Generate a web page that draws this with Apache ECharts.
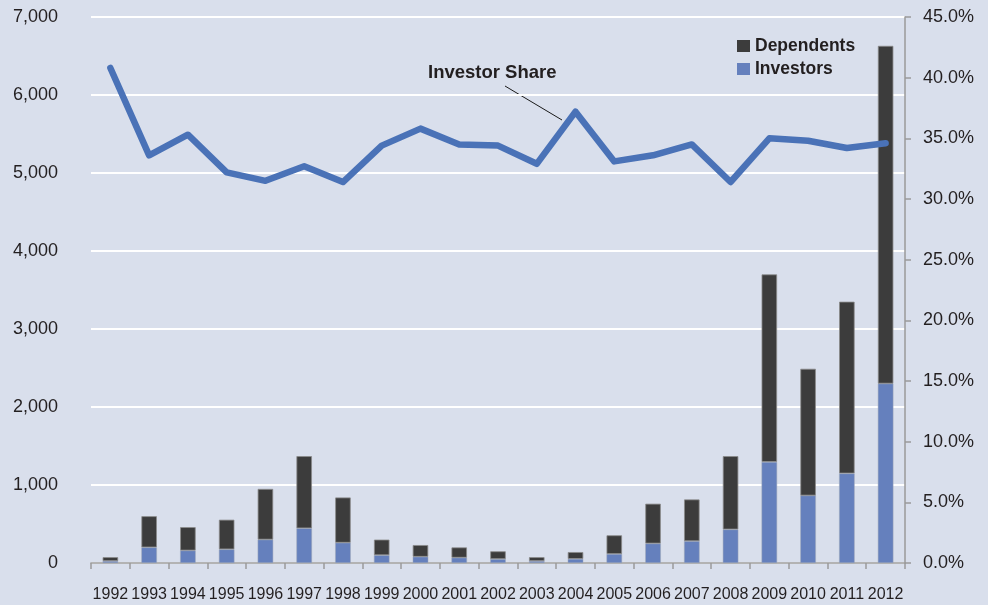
<!DOCTYPE html>
<html>
<head>
<meta charset="utf-8">
<script src="https://cdn.jsdelivr.net/npm/echarts@6/dist/echarts.min.js"></script>
<style>
html,body{margin:0;padding:0;background:#d9dfec;}
#c{width:988px;height:605px;}
</style>
</head>
<body>
<div id="c"></div>
<script>
const years = ['1992','1993','1994','1995','1996','1997','1998','1999','2000','2001','2002','2003','2004','2005','2006','2007','2008','2009','2010','2011','2012'];
const investors = [25,200,160,175,300,445,260,100,80,68,50,25,52,115,250,280,430,1295,865,1148,2300];
const dependents = [50,400,300,380,650,925,580,200,150,132,100,50,88,240,510,535,940,2405,1625,2202,4330];
const investorShare = [40.8,33.6,35.3,32.2,31.5,32.7,31.4,34.4,35.8,34.5,34.4,32.9,37.2,33.1,33.6,34.5,31.4,35.0,34.8,34.2,34.6];
const leftTicks = {min:0, max:7000, interval:1000};
const rightTicks = {min:0, max:45, interval:5};

const txt = '#231f20';
const chart = echarts.init(document.getElementById('c'));
chart.setOption({
  backgroundColor:'#d9dfec',
  animation:false,
  grid:{left:91,right:83,top:17,bottom:42,containLabel:false},
  legend:{
    data:['Dependents','Investors'],
    orient:'vertical', left:732, top:32,
    itemWidth:13, itemHeight:12, itemGap:5,
    itemStyle:{borderWidth:0},
    textStyle:{color:txt, fontSize:17.5, fontWeight:'bold', fontFamily:'Liberation Sans'},
    icon:'rect'
  },
  xAxis:{
    type:'category', data:years,
    axisLine:{lineStyle:{color:'#9a9a9a',width:1.5}},
    axisTick:{show:true,length:6,lineStyle:{color:'#9a9a9a',width:1.5}},
    axisLabel:{color:txt,fontSize:16,fontFamily:'Liberation Sans',margin:24,interval:0}
  },
  yAxis:[{
    type:'value', min:leftTicks.min, max:leftTicks.max, interval:leftTicks.interval,
    axisLine:{show:false}, axisTick:{show:false},
    splitLine:{lineStyle:{color:'#ffffff',width:2}},
    axisLabel:{color:txt,fontSize:18,fontFamily:'Liberation Sans',margin:33,padding:[5,0,0,0],
      formatter:v=>v.toLocaleString('en-US')}
  },{
    type:'value', min:rightTicks.min, max:rightTicks.max, interval:rightTicks.interval,
    position:'right',
    axisLine:{show:true,lineStyle:{color:'#9a9a9a',width:1.5}},
    axisTick:{show:true,length:6,lineStyle:{color:'#9a9a9a',width:1.5}},
    splitLine:{show:false},
    axisLabel:{color:txt,fontSize:18,fontFamily:'Liberation Sans',margin:18,padding:[5,0,0,0],
      formatter:v=>v.toFixed(1)+'%'}
  }],
  series:[{
    name:'Investors', type:'bar', stack:'s', data:investors, barWidth:'40%',
    itemStyle:{color:'#6580bd',borderColor:'#a0a8b8',borderWidth:0.5}
  },{
    name:'Dependents', type:'bar', stack:'s', data:dependents, barWidth:'40%',
    itemStyle:{color:'#3c3c3c',borderColor:'#8a8a8a',borderWidth:0.8}
  },{
    name:'Investor Share', type:'line', yAxisIndex:1, data:investorShare,
    symbol:'none', z:5,
    lineStyle:{color:'#4a72b7',width:6.5,cap:'round',join:'round'}
  }],
  graphic:[{
    type:'text', left:428, top:63,
    style:{text:'Investor Share', fill:txt, font:'bold 18.5px "Liberation Sans"'}
  },{
    type:'line', shape:{x1:505,y1:86,x2:562,y2:120},
    style:{stroke:'#1a1a1a',lineWidth:1}
  }]
});
</script>
</body>
</html>
